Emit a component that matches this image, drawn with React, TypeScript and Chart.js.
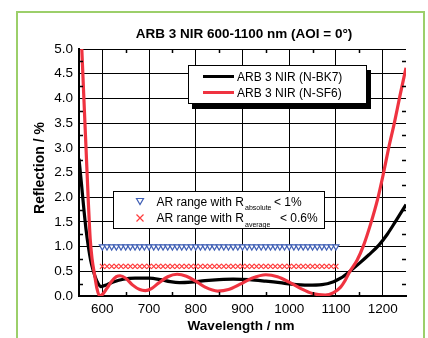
import React, { useEffect, useRef } from 'react';
import { Chart, registerables } from 'chart.js';

Chart.register(...registerables);

// ---- data ----
const bk7Wavelength = [550, 555, 560, 565, 570, 575, 580, 585, 590, 597, 610, 625, 645, 670, 700, 725, 745, 765, 790, 820, 850, 880, 915, 950, 980, 1005, 1040, 1070, 1095, 1110, 1130, 1150, 1170, 1192, 1210, 1227, 1250];
const bk7Reflection = [2.78, 2.3, 1.8, 1.35, 1.0, 0.72, 0.53, 0.38, 0.27, 0.19, 0.23, 0.29, 0.34, 0.36, 0.36, 0.33, 0.29, 0.27, 0.28, 0.31, 0.33, 0.34, 0.33, 0.30, 0.27, 0.24, 0.22, 0.23, 0.29, 0.36, 0.5, 0.66, 0.83, 1.03, 1.25, 1.5, 1.85];

const sf6Wavelength = [556, 560, 565, 570, 574, 578, 583, 588, 594, 600, 610, 620, 630, 638, 650, 665, 680, 692, 705, 720, 740, 760, 780, 800, 820, 847, 870, 895, 920, 950, 975, 1000, 1025, 1050, 1077, 1095, 1110, 1120, 1130, 1145, 1159, 1175, 1189, 1201, 1213, 1225, 1237, 1250];
const sf6Reflection = [5.0, 4.1, 3.0, 1.9, 1.15, 0.75, 0.45, 0.17, 0.0, 0.03, 0.16, 0.3, 0.39, 0.41, 0.36, 0.22, 0.13, 0.11, 0.15, 0.26, 0.39, 0.44, 0.40, 0.3, 0.18, 0.10, 0.13, 0.24, 0.36, 0.43, 0.39, 0.28, 0.15, 0.05, 0.02, 0.07, 0.18, 0.32, 0.5, 0.72, 1.02, 1.48, 1.95, 2.45, 3.0, 3.5, 4.05, 4.62];

const arWavelength = [600, 610, 620, 630, 640, 650, 660, 670, 680, 690, 700, 710, 720, 730, 740, 750, 760, 770, 780, 790, 800, 810, 820, 830, 840, 850, 860, 870, 880, 890, 900, 910, 920, 930, 940, 950, 960, 970, 980, 990, 1000, 1010, 1020, 1030, 1040, 1050, 1060, 1070, 1080, 1090, 1100];
const arAbsolute = [1.0, 1.0, 1.0, 1.0, 1.0, 1.0, 1.0, 1.0, 1.0, 1.0, 1.0, 1.0, 1.0, 1.0, 1.0, 1.0, 1.0, 1.0, 1.0, 1.0, 1.0, 1.0, 1.0, 1.0, 1.0, 1.0, 1.0, 1.0, 1.0, 1.0, 1.0, 1.0, 1.0, 1.0, 1.0, 1.0, 1.0, 1.0, 1.0, 1.0, 1.0, 1.0, 1.0, 1.0, 1.0, 1.0, 1.0, 1.0, 1.0, 1.0, 1.0];
const arAverage = [0.6, 0.6, 0.6, 0.6, 0.6, 0.6, 0.6, 0.6, 0.6, 0.6, 0.6, 0.6, 0.6, 0.6, 0.6, 0.6, 0.6, 0.6, 0.6, 0.6, 0.6, 0.6, 0.6, 0.6, 0.6, 0.6, 0.6, 0.6, 0.6, 0.6, 0.6, 0.6, 0.6, 0.6, 0.6, 0.6, 0.6, 0.6, 0.6, 0.6, 0.6, 0.6, 0.6, 0.6, 0.6, 0.6, 0.6, 0.6, 0.6, 0.6, 0.6];

const xTicks = [600, 700, 800, 900, 1000, 1100, 1200];
const yTicks = [0, 0.5, 1.0, 1.5, 2.0, 2.5, 3.0, 3.5, 4.0, 4.5, 5.0];
const xMinorTicks = [650, 750, 850, 950, 1050, 1150];
const yMinorTicks = [0.25, 0.75, 1.25, 1.75, 2.25, 2.75, 3.25, 3.75, 4.25, 4.75];

const chartTitle = 'ARB 3 NIR 600-1100 nm (AOI = 0°)';
const xTitle = 'Wavelength / nm';
const yTitle = 'Reflection / %';
const seriesNames = ['ARB 3 NIR (N-BK7)', 'ARB 3 NIR (N-SF6)'];

const BLACK = '#000000';
const RED = '#ef3340';
const BLUE = '#3f5fb5';
const XRED = '#ff3b3b';
const FONT = '"Liberation Sans", Arial, sans-serif';

const decorPlugin = {
  id: 'decor',
  afterDraw(chart: any) {
    const { ctx, chartArea: a, scales } = chart;
    const xs = scales.x;
    const ys = scales.y;
    ctx.save();

    // inward minor ticks on all four sides
    ctx.strokeStyle = '#000';
    ctx.lineWidth = 1.5;
    ctx.beginPath();
    for (const v of xMinorTicks) {
      const px = Math.round(xs.getPixelForValue(v)) + 0.5;
      ctx.moveTo(px, a.bottom);
      ctx.lineTo(px, a.bottom - 4);
      ctx.moveTo(px, a.top);
      ctx.lineTo(px, a.top + 4);
    }
    for (const v of yMinorTicks) {
      const py = Math.round(ys.getPixelForValue(v)) + 0.5;
      ctx.moveTo(a.left, py);
      ctx.lineTo(a.left + 4, py);
      ctx.moveTo(a.right, py);
      ctx.lineTo(a.right - 4, py);
    }
    ctx.stroke();

    // titles
    ctx.fillStyle = '#000';
    ctx.font = `bold 13.5px ${FONT}`;
    ctx.textAlign = 'center';
    ctx.textBaseline = 'alphabetic';
    ctx.fillText(chartTitle, 244, 38);
    ctx.fillText(xTitle, 241, 330);
    ctx.save();
    ctx.translate(44, 168);
    ctx.rotate(-Math.PI / 2);
    ctx.font = `bold 14px ${FONT}`;
    ctx.fillText(yTitle, 0, 0);
    ctx.restore();

    // legend 1 (curves) with drop shadow
    ctx.fillStyle = '#000';
    ctx.fillRect(192, 70, 179, 39);
    ctx.fillStyle = '#fff';
    ctx.fillRect(188, 65, 179, 39);
    ctx.strokeStyle = '#000';
    ctx.lineWidth = 1;
    ctx.strokeRect(188.5, 65.5, 178, 38);
    ctx.lineWidth = 3;
    ctx.strokeStyle = BLACK;
    ctx.beginPath();
    ctx.moveTo(203, 76.5);
    ctx.lineTo(234, 76.5);
    ctx.stroke();
    ctx.strokeStyle = RED;
    ctx.beginPath();
    ctx.moveTo(203, 92.5);
    ctx.lineTo(234, 92.5);
    ctx.stroke();
    ctx.fillStyle = '#000';
    ctx.font = `12px ${FONT}`;
    ctx.textAlign = 'left';
    ctx.textBaseline = 'middle';
    ctx.fillText(seriesNames[0], 237, 77.5);
    ctx.fillText(seriesNames[1], 237, 93.5);

    // legend 2 (AR ranges)
    ctx.fillStyle = '#fff';
    ctx.fillRect(113, 191, 212, 38);
    ctx.strokeStyle = '#000';
    ctx.lineWidth = 1;
    ctx.strokeRect(113.5, 191.5, 211, 37);
    ctx.strokeStyle = BLUE;
    ctx.lineWidth = 1.2;
    ctx.beginPath();
    ctx.moveTo(136.5, 198.5);
    ctx.lineTo(143.5, 198.5);
    ctx.lineTo(140, 204.5);
    ctx.closePath();
    ctx.stroke();
    ctx.strokeStyle = XRED;
    ctx.beginPath();
    ctx.moveTo(136.5, 214.5);
    ctx.lineTo(143.5, 221.5);
    ctx.moveTo(143.5, 214.5);
    ctx.lineTo(136.5, 221.5);
    ctx.stroke();

    ctx.fillStyle = '#000';
    ctx.textBaseline = 'alphabetic';
    ctx.font = `12px ${FONT}`;
    ctx.fillText('AR range with R', 156.5, 205.5);
    ctx.fillText('< 1%', 274, 205.5);
    ctx.fillText('AR range with R', 156.5, 222);
    ctx.fillText('< 0.6%', 280, 222);
    ctx.font = `7px ${FONT}`;
    ctx.fillText('absolute', 245, 210);
    ctx.fillText('average', 245, 226.5);

    ctx.restore();
  },
};

export default function App() {
  const ref = useRef<HTMLCanvasElement>(null);

  useEffect(() => {
    const canvas = ref.current;
    if (!canvas) return;
    const pts = (xs: number[], ys: number[]) => xs.map((x, i) => ({ x, y: ys[i] }));
    const tickFont = { family: FONT, size: 13.5 };

    const chart = new Chart(canvas, {
      type: 'line',
      data: {
        datasets: [
          {
            label: 'R absolute < 1%',
            data: pts(arWavelength, arAbsolute),
            showLine: false,
            pointStyle: 'triangle',
            rotation: 180,
            pointRadius: 3.5,
            borderColor: BLUE,
            backgroundColor: '#ffffff',
            pointBorderWidth: 1.2,
            order: 3,
          },
          {
            label: 'R average < 0.6%',
            data: pts(arWavelength, arAverage),
            showLine: false,
            pointStyle: 'crossRot',
            pointRadius: 3.5,
            borderColor: XRED,
            backgroundColor: XRED,
            pointBorderWidth: 1.2,
            order: 4,
          },
          {
            label: seriesNames[0],
            data: pts(bk7Wavelength, bk7Reflection),
            borderColor: BLACK,
            borderWidth: 3.2,
            pointRadius: 0,
            cubicInterpolationMode: 'monotone',
            fill: false,
            order: 2,
          },
          {
            label: seriesNames[1],
            data: pts(sf6Wavelength, sf6Reflection),
            borderColor: RED,
            borderWidth: 3.2,
            pointRadius: 0,
            cubicInterpolationMode: 'monotone',
            fill: false,
            order: 1,
          },
        ] as any,
      },
      options: {
        animation: false,
        responsive: false,
        events: [],
        layout: { padding: { left: 0, top: 49, right: 22, bottom: 0 } },
        plugins: {
          legend: { display: false },
          title: { display: false },
          tooltip: { enabled: false },
        },
        scales: {
          x: {
            type: 'linear',
            min: 550,
            max: 1250,
            afterBuildTicks: (s: any) => {
              s.ticks = xTicks.map((v) => ({ value: v }));
            },
            afterFit: (s: any) => {
              s.height = 42;
            },
            grid: { color: '#000', lineWidth: 1, drawTicks: false },
            border: { display: true, color: '#000', width: 2 },
            ticks: {
              autoSkip: false,
              maxRotation: 0,
              color: '#000',
              font: tickFont,
              padding: 5,
              callback: (v: any) => String(v),
            },
          },
          y: {
            type: 'linear',
            min: 0,
            max: 5,
            afterBuildTicks: (s: any) => {
              s.ticks = yTicks.map((v) => ({ value: v }));
            },
            afterFit: (s: any) => {
              s.width = 79;
            },
            grid: { color: '#000', lineWidth: 1, drawTicks: false },
            border: { display: true, color: '#000', width: 2 },
            ticks: {
              autoSkip: false,
              color: '#000',
              font: tickFont,
              padding: 6,
              callback: (v: any) => Number(v).toFixed(1),
            },
          },
        },
      } as any,
      plugins: [decorPlugin],
    });

    return () => chart.destroy();
  }, []);

  return (
    <div style={{ position: 'fixed', left: 0, top: 0, width: 428, height: 338, background: '#fff', overflow: 'hidden' }}>
      <canvas ref={ref} width={428} height={338} style={{ position: 'absolute', left: 0, top: 0, width: 428, height: 338 }} />
      <div
        style={{
          position: 'absolute',
          left: 16,
          top: 11,
          width: 405,
          height: 340,
          border: '2px solid #9ccf6a',
          pointerEvents: 'none',
        }}
      />
    </div>
  );
}
